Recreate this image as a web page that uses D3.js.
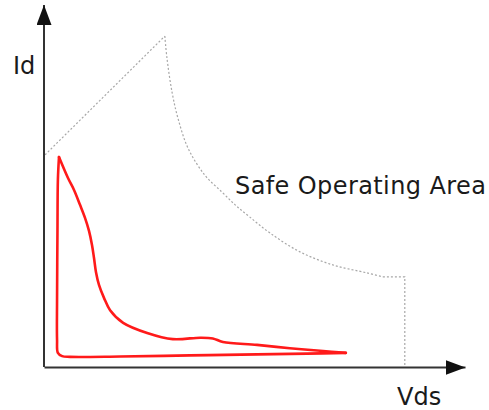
<!DOCTYPE html>
<html>
<head>
<meta charset="utf-8">
<script src="https://cdn.jsdelivr.net/npm/d3@7"></script>
<style>
  html, body { margin: 0; padding: 0; background: #fff; }
  svg { display: block; }
  text { font-family: "DejaVu Sans", sans-serif; fill: #1a1a1a; }
</style>
</head>
<body>
<svg id="chart" width="489" height="410"></svg>
<script>
// Axis labels and annotation
const xLabel = "Vds";
const yLabel = "Id";
const areaLabel = "Safe Operating Area";

// Safe operating area boundary (Vds, Id), arbitrary units 0-100
const soaLimitLine = [[0.24, 58.6], [28.7, 91.4]];
const soaPowerCurve = [
  [28.7, 91.4], [29.2, 85.4], [30.4, 76.0], [31.8, 68.8], [34.2, 60.5],
  [38.2, 53.0], [42.3, 48.3], [45.4, 44.8], [48.9, 41.4], [53.7, 37.0],
  [60.8, 31.8], [68.6, 28.2], [76.7, 26.0], [80.5, 24.9]
];
const soaVoltageLimit = [[80.5, 24.9], [85.7, 24.9], [85.7, 0]];

// Switching trajectory (Vds, Id): turn-off branch (peak -> tip)
const loopTurnOff = [
  [3.56, 58.0], [5.7, 52.2], [7.13, 48.9], [8.55, 44.8], [9.74, 41.2],
  [10.69, 37.6], [11.4, 33.7], [11.88, 30.1], [12.35, 26.2], [13.06, 22.7],
  [14.25, 19.1], [15.7, 15.7], [18.8, 12.2], [24.5, 9.4], [30.6, 7.7],
  [37.1, 8.1], [40.1, 7.9], [42.5, 6.9], [50.6, 6.1], [58.4, 5.2],
  [66.3, 4.4], [71.7, 3.9]
];
// return branch (tip -> bottom -> peak)
const loopTurnOn = [
  [71.7, 3.9], [62.5, 3.7], [50.6, 3.5], [34.7, 3.2], [18.1, 2.9],
  [6.2, 2.8], [4.3, 3.0], [3.3, 3.9], [3.1, 7.5], [3.1, 18.5],
  [3.2, 37.8], [3.3, 51.7], [3.56, 58.0]
];

const svg = d3.select("#chart");
const x = d3.scaleLinear().domain([0, 100]).range([44, 465]);
const y = d3.scaleLinear().domain([0, 100]).range([367, 5]);

const defs = svg.append("defs");
defs.append("marker")
  .attr("id", "arrow")
  .attr("viewBox", "0 0 20 15")
  .attr("refX", 20).attr("refY", 7.5)
  .attr("markerWidth", 20).attr("markerHeight", 15)
  .attr("markerUnits", "userSpaceOnUse")
  .attr("orient", "auto")
  .append("path")
  .attr("d", "M0,0 L20,7.5 L0,15 Z")
  .attr("fill", "#111");

// SOA boundary (dotted grey)
const lineLin = d3.line().x(d => x(d[0])).y(d => y(d[1]));
const lineCurve = d3.line().x(d => x(d[0])).y(d => y(d[1])).curve(d3.curveCatmullRom.alpha(0.5));
const soaStyle = g => g.attr("fill", "none").attr("stroke", "#a8a8a8")
  .attr("stroke-width", 1.2).attr("stroke-dasharray", "2,2");

svg.append("path").datum(soaLimitLine).attr("d", lineLin).call(soaStyle);
svg.append("path").datum(soaPowerCurve).attr("d", lineCurve).call(soaStyle);
svg.append("path").datum(soaVoltageLimit).attr("d", lineLin).call(soaStyle);

// Axis lines
const xAxis = d3.axisBottom(x).tickValues([]).tickSizeOuter(0);
const yAxis = d3.axisLeft(y).tickValues([]).tickSizeOuter(0);
const gx = svg.append("g").attr("transform", `translate(0,${y(0)})`).call(xAxis);
const gy = svg.append("g").attr("transform", `translate(${x(0)},0)`).call(yAxis);
[gx, gy].forEach(g => g.select(".domain").attr("stroke", "#333").attr("stroke-width", 2));
gx.select(".domain").attr("marker-end", "url(#arrow)");
gy.select(".domain").attr("d", `M0,${y(0)}V${y(100)}`).attr("marker-end", "url(#arrow)");

// Red switching trajectory
const redStyle = g => g.attr("fill", "none").attr("stroke", "#ff1a1a")
  .attr("stroke-width", 2.6).attr("stroke-linejoin", "round").attr("stroke-linecap", "round");
svg.append("path").datum(loopTurnOff).attr("d", lineCurve).call(redStyle);
svg.append("path").datum(loopTurnOn).attr("d", lineCurve).call(redStyle);

// Labels
svg.append("text").attr("x", 13).attr("y", 74).attr("font-size", 24).text(yLabel);
svg.append("text").attr("x", 397).attr("y", 405).attr("font-size", 24).text(xLabel);
svg.append("text").attr("x", 235).attr("y", 194).attr("font-size", 24)
  .attr("letter-spacing", 0.4).text(areaLabel);
</script>
</body>
</html>
